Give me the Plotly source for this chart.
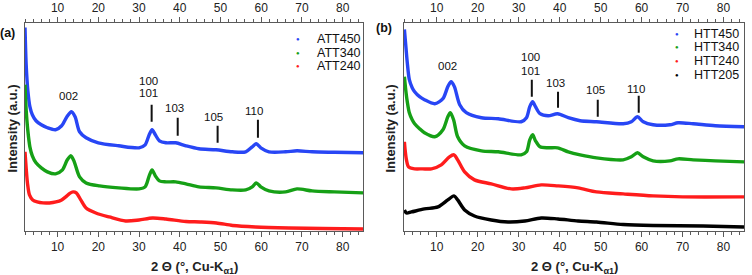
import plotly.graph_objects as go

W, H = 752, 275

# ---------------- data: panel (a) ----------------
att450_x = [2.0, 2.3, 2.7, 3.2, 3.8, 4.7, 6, 7.5, 9.5, 11, 12.3, 13.4, 14.3, 15.4, 17, 20, 25, 30, 31.5, 32.5,
            33.2, 34, 35, 36.6, 39, 41.5, 44.7, 48.9, 52.9, 56.2, 57.8, 58.8, 59.9, 61.9, 66, 68.8, 72.5, 78, 85]
att450_y = [203, 165, 140, 124, 116, 110, 106, 103, 101, 105, 114, 119, 114, 99, 93, 88, 85, 83, 86, 96,
            101, 96, 90, 88, 88, 85, 82, 81, 79, 79, 84, 87, 83, 79, 79, 80, 79, 78.5, 78]

att340_x = [2.0, 2.3, 2.7, 3.2, 3.8, 4.7, 6, 7.5, 9.5, 11.2, 12.4, 13.3, 14.1, 15.4, 17, 20.3, 25, 30, 31.5, 32.5,
            33.2, 34, 35, 36.6, 39, 41.5, 44.7, 48.9, 52.9, 56.2, 57.8, 58.8, 59.9, 61.9, 66, 68.8, 72.5, 78, 85]
att340_y = [146, 120, 100, 84, 75, 68, 63, 59, 57, 61, 71, 75, 69, 54, 48, 45, 43, 42, 44, 55,
            61, 55, 50, 49, 49, 47, 44, 43, 41, 41, 44, 48, 44, 40, 39, 42, 40, 39, 38]

att240_x = [2.0, 2.3, 2.6, 3.1, 3.9, 5, 6.4, 8, 9.6, 11, 12, 13, 13.8, 14.6, 15.7, 17, 19.4, 22.7, 26.7, 30,
            33.3, 36.6, 41.5, 45, 49, 53, 58.6, 66.8, 75, 85]
att240_y = [79, 62, 48, 36, 31, 29, 28, 28, 29, 31, 34, 37.5, 39, 38, 31, 23, 18, 14, 10, 11,
            13, 12, 9.5, 9, 8, 5.5, 4, 3, 2.5, 2]

# ---------------- data: panel (b) ----------------
htt450_x = [2.1, 2.5, 2.8, 3.3, 4, 4.6, 5.8, 7, 9.5, 11.5, 12.7, 13.5, 14.3, 15.6, 17.2, 20.9, 25, 30.6, 31.9,
            32.7, 33.4, 34.1, 35.2, 37.2, 39.5, 42.1, 45, 49, 55.5, 57.5, 59, 60.4, 62.8, 66.9, 68.9, 72.6, 78, 85]
htt450_y = [201, 182, 168, 151, 143, 139, 134, 131, 127, 132, 144, 149, 144, 126, 118, 113, 112, 109, 113,
            124, 129, 124, 117, 115, 117, 113, 110, 109, 107, 109, 114, 109, 106, 106, 108, 107, 105, 104]

htt340_x = [2.1, 2.5, 2.8, 3.3, 4, 4.6, 5.8, 7, 9.5, 11.5, 12.7, 13.3, 14.1, 15.1, 16.8, 20.9, 25, 30.6, 31.9,
            32.7, 33.4, 34.1, 35.2, 37.2, 39.5, 42.1, 45, 49, 55.5, 57.5, 59, 60.4, 62.8, 66.9, 68.9, 72.6, 78, 85]
htt340_y = [154, 138, 129, 118, 111, 107, 102, 98, 94, 101, 114, 118, 111, 94, 85, 80, 79, 76, 79,
            91, 96, 90, 84, 83, 83, 79, 76, 73, 71, 74, 78, 74, 70, 70, 72, 71, 70, 69]

htt240_x = [2.1, 2.3, 2.6, 3.1, 4.6, 6.5, 8.7, 11.1, 13.1, 14.2, 15.1, 16.8, 19.2, 23.3, 28.2, 31.5, 35.5,
            39.6, 44.5, 49, 55.5, 62.8, 70, 85]
htt240_y = [89, 80, 71, 64, 62, 62, 62, 66, 74, 76, 71, 59, 51, 47, 42, 43, 46, 45, 43, 39, 37, 35, 34, 34]

htt205_x = [2.1, 2.6, 3.8, 7, 10.3, 12.7, 14.2, 15.1, 16.8, 19.2, 23.3, 27.4, 31.5, 35.5, 39.6, 44.5, 49,
            55.5, 62.8, 75, 85]
htt205_y = [21, 18, 19, 22, 24, 31, 35, 31, 21, 15, 11, 9, 10, 13, 12, 10, 9, 6.5, 5.5, 5, 4]

names_a = ["ATT450", "ATT340", "ATT240"]
names_b = ["HTT450", "HTT340", "HTT240", "HTT205"]
colors_a = ["#2846f5", "#16a016", "#ff1c1c"]
colors_b = ["#2846f5", "#16a016", "#ff1c1c", "#000000"]

# reflection labels (hkl), their 2θ tick positions and annotation heights
hkl_labels = ["002", "100", "101", "103", "105", "110"]
label_x_a = [12.6, 32.4, 32.4, 38.7, 48.4, 58.3]
label_y_a = [135, 150, 138, 123, 114, 120]
label_x_b = [12.7, 33.0, 33.0, 39.0, 48.7, 58.7]
label_y_b = [165, 173.5, 160, 148, 141, 142]

tick_hkl_x_a = [33.1, 39.5, 49.3, 59.2]
tick_hkl_y0_a = [109, 95, 88, 93]
tick_hkl_y1_a = [126, 113, 105, 111]
tick_hkl_x_b = [33.2, 39.6, 49.3, 59.3]
tick_hkl_y0_b = [134, 123, 114, 118]
tick_hkl_y1_b = [151, 139, 131, 135]

XRANGE = [2, 85]
YRANGE = [0, 208]

FONT = "Liberation Sans, Arial, sans-serif"
AXC = "#5a5a5a"

fig = go.Figure()

series_a = [(att450_x, att450_y), (att340_x, att340_y), (att240_x, att240_y)]
series_b = [(htt450_x, htt450_y), (htt340_x, htt340_y), (htt240_x, htt240_y), (htt205_x, htt205_y)]

for (xs, ys), n, c in zip(series_a, names_a, colors_a):
    fig.add_trace(go.Scatter(x=xs, y=ys, name=n, mode="lines", xaxis="x", yaxis="y",
                             line=dict(color=c, width=3.4, shape="spline", smoothing=0.8),
                             showlegend=False))
for (xs, ys), n, c in zip(series_b, names_b, colors_b):
    fig.add_trace(go.Scatter(x=xs, y=ys, name=n, mode="lines", xaxis="x2", yaxis="y2",
                             line=dict(color=c, width=3.4, shape="spline", smoothing=0.8),
                             showlegend=False))

L_A, R_A, L_B, R_B, TOP, BOT = 25, 363, 404, 744, 22.5, 231
dom_a = [L_A / W, R_A / W]
dom_b = [L_B / W, R_B / W]
dom_y = [1 - BOT / H, 1 - TOP / H]

def xax(domain, anchor, side, overlaying=None):
    d = dict(range=XRANGE, anchor=anchor, side=side, tick0=0, dtick=10,
             ticks="outside", ticklen=5, tickwidth=1, tickcolor=AXC,
             minor=dict(dtick=2, ticks="outside", ticklen=3, tickcolor=AXC, tickwidth=1),
             showline=True, linecolor=AXC, linewidth=1, showgrid=False, zeroline=False,
             tickfont=dict(family=FONT, size=12, color="#222"), fixedrange=True, automargin=False)
    if overlaying:
        d["overlaying"] = overlaying
    else:
        d["domain"] = domain
    return d

def yax(anchor):
    return dict(range=YRANGE, domain=dom_y, anchor=anchor, showticklabels=False, ticks="",
                showline=True, mirror=True, linecolor=AXC, linewidth=1, showgrid=False,
                zeroline=False, automargin=False, fixedrange=True)

fig.update_layout(
    width=W, height=H, margin=dict(l=0, r=0, t=0, b=0, autoexpand=False),
    paper_bgcolor="white", plot_bgcolor="white",
    xaxis=xax(dom_a, "y", "bottom"),
    xaxis2=xax(dom_b, "y2", "bottom"),
    xaxis3=xax(None, "y", "top", overlaying="x"),
    xaxis4=xax(None, "y2", "top", overlaying="x2"),
    yaxis=yax("x"),
    yaxis2=yax("x2"),
    showlegend=False,
)

# invisible carriers so the top axes are drawn
fig.add_trace(go.Scatter(x=[None], y=[None], xaxis="x3", yaxis="y", showlegend=False, hoverinfo="skip"))
fig.add_trace(go.Scatter(x=[None], y=[None], xaxis="x4", yaxis="y2", showlegend=False, hoverinfo="skip"))

ann = []
shapes = []
for xr, yr, lx, ly, tx, t0, t1 in [("x", "y", label_x_a, label_y_a, tick_hkl_x_a, tick_hkl_y0_a, tick_hkl_y1_a),
                                   ("x2", "y2", label_x_b, label_y_b, tick_hkl_x_b, tick_hkl_y0_b, tick_hkl_y1_b)]:
    for t, x, y in zip(hkl_labels, lx, ly):
        ann.append(dict(x=x, y=y, xref=xr, yref=yr, text=t, showarrow=False,
                        font=dict(family=FONT, size=11.5, color="#111")))
    for x, y0, y1 in zip(tx, t0, t1):
        shapes.append(dict(type="line", xref=xr, yref=yr, x0=x, x1=x, y0=y0, y1=y1,
                           line=dict(color="#111", width=2)))

# legends (dot + name)
for names, cols, dot_px, txt_px, y0_px in [(names_a, colors_a, 298.3, 315, 38.8),
                                          (names_b, colors_b, 676.7, 692.3, 33.7)]:
    for i, (n, c) in enumerate(zip(names, cols)):
        ypx = y0_px + 13.7 * i
        ann.append(dict(x=dot_px / W, y=1 - ypx / H, xref="paper", yref="paper", text="●",
                        showarrow=False, xanchor="center", yanchor="middle",
                        font=dict(family=FONT, size=6, color=c)))
        ann.append(dict(x=txt_px / W, y=1 - ypx / H, xref="paper", yref="paper", text=n,
                        showarrow=False, xanchor="left", yanchor="middle",
                        font=dict(family=FONT, size=12.5, color="#111")))

# axis titles
xtitle = "<b>2 Θ (°, Cu-K<sub>α1</sub>)</b>"
ytitle = "<b>Intensity (a.u.)</b>"
for cx in [(L_A + R_A) / 2, (L_B + R_B) / 2]:
    ann.append(dict(x=cx / W, y=1 - 267 / H, xref="paper", yref="paper", text=xtitle, showarrow=False,
                    xanchor="center", yanchor="middle", font=dict(family=FONT, size=13, color="#222")))
for cx in [11.5, 389.5]:
    ann.append(dict(x=cx / W, y=1 - 129 / H, xref="paper", yref="paper", text=ytitle, showarrow=False,
                    textangle=-90, xanchor="center", yanchor="middle",
                    font=dict(family=FONT, size=13, color="#222")))

# panel letters
ann.append(dict(x=7.5 / W, y=1 - 33 / H, xref="paper", yref="paper", text="<b>(a)</b>", showarrow=False,
                xanchor="center", yanchor="middle", font=dict(family=FONT, size=12.5, color="#111")))
ann.append(dict(x=384.5 / W, y=1 - 28.3 / H, xref="paper", yref="paper", text="<b>(b)</b>", showarrow=False,
                xanchor="center", yanchor="middle", font=dict(family=FONT, size=12.5, color="#111")))

fig.update_layout(annotations=ann, shapes=shapes)
fig.write_html("out.html", config={"displayModeBar": False},
               post_script="document.body.style.margin='0';document.body.style.overflow='hidden';")
